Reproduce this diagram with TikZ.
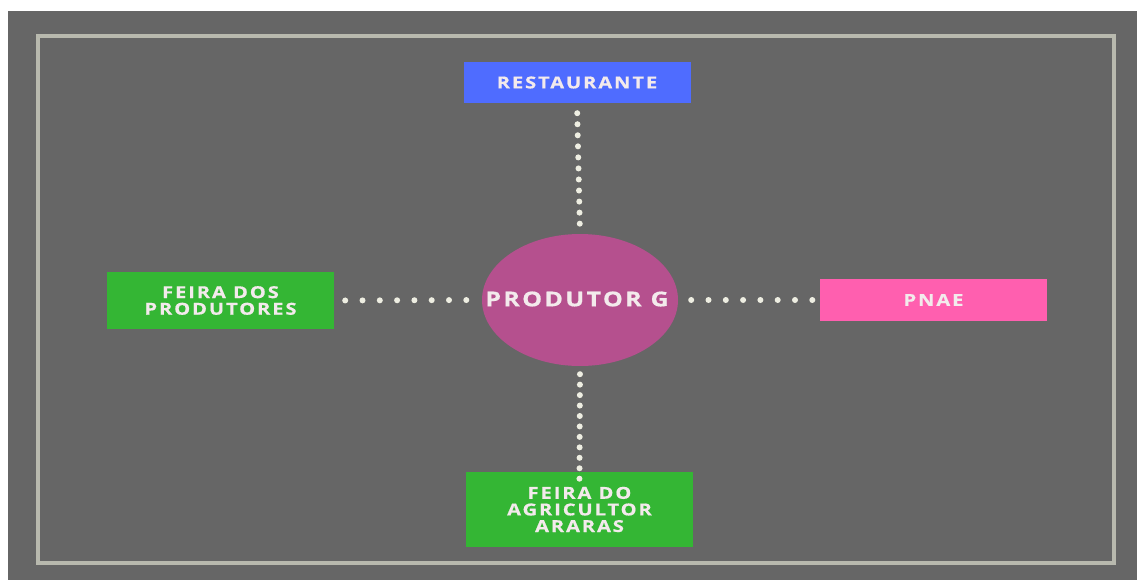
\documentclass[tikz,border=0pt]{standalone}
\usepackage{fontspec}
\newfontfamily\lblfont[FakeStretch=1.22,LetterSpace=11.5,FakeBold=0.6]{Open Sans}
\usetikzlibrary{shapes.geometric}
\definecolor{bggray}{HTML}{666666}
\definecolor{framecol}{HTML}{B8B9AE}
\definecolor{blueb}{HTML}{4F6CFF}
\definecolor{greenb}{HTML}{34B634}
\definecolor{pinkb}{HTML}{FF5FAF}
\definecolor{circcol}{HTML}{B5508E}
\definecolor{txtcol}{HTML}{F3EAEC}
\definecolor{dotcol}{HTML}{EEEEE2}
\tikzset{
  lbl/.style={text=txtcol, font=\lblfont\bfseries\fontsize{16.5}{16.6}\selectfont, align=center, inner sep=0pt},
  box/.style={lbl, rectangle, minimum width=227pt},
  dots/.style={draw=dotcol, line width=6pt, line cap=round, dash pattern=on 0pt off #1},
}
\begin{document}
\begin{tikzpicture}[x=1pt,y=-1pt]
\useasboundingbox (0,0) rectangle (1137,580);
\fill[white] (0,0) rectangle (1137,580);
\fill[bggray] (8,11) rectangle (1137,580);
\draw[framecol, line width=4pt] (37.5,36) rectangle (1113.5,562.5);

\node[box, fill=blueb, minimum height=41pt] (rest) at (577,82.5) {RESTAURANTE};
\node[box, fill=greenb, minimum height=57pt] (feirap) at (220.5,300.5) {FEIRA DOS\\PRODUTORES};
\node[box, fill=pinkb, minimum height=42pt] (pnae) at (933.5,300) {PNAE};
\node[box, fill=greenb, minimum height=75pt] (feiraa) at (579.5,509.5) {FEIRA DO\\AGRICULTOR\\ARARAS};
\node[ellipse, fill=circcol, inner sep=0pt, minimum width=196pt, minimum height=132pt] (prod) at (580,300) {};
\node[lbl, font=\lblfont\bfseries\fontsize{20.5}{21}\selectfont] (prodtxt) at (577,299) {PRODUTOR G};

\draw[dots=17.3pt, shorten <=11pt, shorten >=15pt] (feirap.east) -- (prod.west);
\draw[dots=17.3pt, shorten <=13pt, shorten >=7pt] (prod.east) -- (pnae.west);
\draw[dots=11.05pt, shorten <=10pt, shorten >=10pt] (rest.south) -- (prod.north);
\draw[dots=10.45pt, shorten <=8pt, shorten >=-7pt] (prod.south) -- (feiraa.north);
\end{tikzpicture}
\end{document}
